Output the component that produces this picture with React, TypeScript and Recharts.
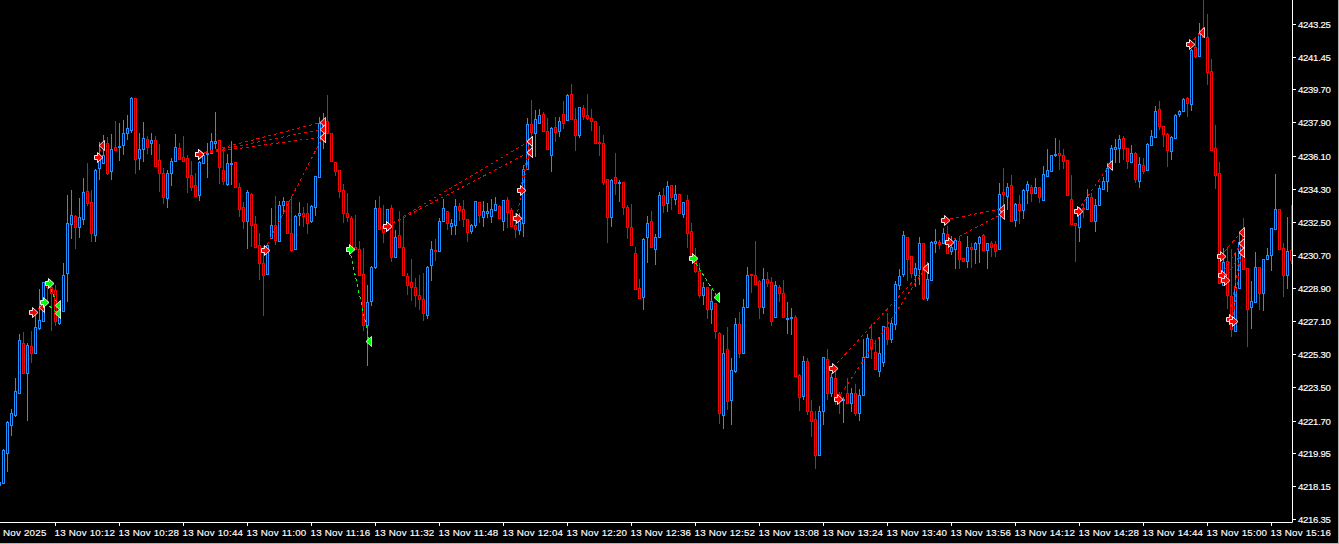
import { Bar, ComposedChart, Line, Scatter, XAxis, YAxis } from "recharts";

const BLUE = "#1e90ff";
const RED = "#ff0000";
const GREEN = "#00ff00";
const FONT = '"Liberation Sans", sans-serif';

const opens = [
  4218.20,4218.32,4219.95,4221.48,4222.02,4223.21,4225.89,4224.30,4225.75,4225.35,
  4226.75,4227.09,4229.19,4228.97,4228.79,4227.02,4227.67,4229.70,4232.40,4232.81,
  4232.23,4232.67,4234.15,4233.57,4231.80,4235.44,4235.71,4236.76,4235.28,4236.54,
  4236.54,4236.69,4237.34,4237.49,4239.23,4235.97,4236.47,4236.98,4236.76,4236.94,
  4235.86,4235.13,4233.81,4235.13,4235.82,4236.49,4236.00,4235.95,4235.02,4234.48,
  4233.94,4235.67,4236.18,4236.25,4236.80,4236.94,4235.31,4234.55,4235.64,4235.75,
  4234.37,4233.28,4232.56,4234.01,4232.38,4231.22,4230.24,4229.68,4231.62,4232.34,
  4231.47,4233.43,4233.61,4231.87,4231.00,4232.85,4232.96,4232.96,4232.52,4233.32,
  4234.95,4237.45,4237.96,4237.34,4235.75,4235.31,4234.23,4232.96,4232.70,4231.11,
  4231.00,4229.66,4226.91,4228.21,4230.06,4233.25,4232.27,4232.05,4233.23,4230.60,
  4231.76,4231.15,4229.55,4229.23,4228.94,4228.50,4228.28,4227.42,4230.13,4230.97,
  4230.89,4232.53,4233.07,4232.29,4232.35,4233.36,4233.18,4232.64,4232.02,4232.35,
  4233.56,4232.78,4233.00,4232.82,4233.15,4233.36,4232.57,4233.67,4233.13,4232.31,
  4232.08,4232.46,4235.39,4237.80,4237.31,4237.89,4238.34,4237.46,4236.15,4237.64,
  4237.46,4238.34,4238.04,4239.43,4238.11,4237.24,4238.69,4238.29,4238.13,4237.96,
  4236.84,4236.77,4234.81,4232.78,4234.92,4234.63,4234.67,4233.29,4232.24,4230.79,
  4228.89,4228.44,4231.66,4232.53,4231.04,4231.66,4233.94,4233.51,4234.49,4233.76,
  4234.00,4232.95,4233.67,4231.99,4230.61,4229.85,4228.51,4228.94,4227.75,4228.07,
  4226.48,4221.99,4225.61,4222.79,4224.38,4226.92,4225.39,4227.86,4229.65,4229.63,
  4229.31,4227.89,4229.38,4229.23,4227.31,4228.94,4228.65,4227.24,4227.26,4227.31,
  4224.20,4223.04,4224.96,4222.21,4221.77,4219.82,4222.21,4225.07,4223.22,4224.02,
  4223.15,4222.86,4223.18,4222.64,4223.18,4222.10,4223.08,4225.18,4226.15,4225.43,
  4224.42,4224.90,4226.77,4226.15,4226.96,4229.09,4229.67,4231.66,4230.64,4229.63,
  4229.92,4231.33,4228.34,4229.34,4231.33,4231.39,4231.33,4231.84,4230.90,4231.04,
  4231.46,4230.53,4230.35,4231.11,4231.04,4231.33,4231.80,4230.97,4231.33,4231.30,
  4231.04,4234.10,4233.92,4234.48,4232.60,4233.47,4233.12,4234.25,4234.37,4234.05,
  4234.37,4233.70,4235.01,4235.28,4236.15,4236.22,4236.11,4235.84,4233.76,4232.42,
  4232.24,4233.25,4233.22,4233.83,4232.56,4233.40,4234.30,4234.73,4235.40,4236.47,
  4236.51,4237.03,4236.49,4235.77,4236.25,4234.73,4235.57,4235.31,4236.65,4237.12,
  4238.61,4237.69,4237.29,4236.36,4237.05,4238.34,4238.50,4239.21,4238.92,4241.98,
  4241.51,4243.01,4242.52,4240.67,4236.49,4235.13,4229.05,4230.35,4228.47,4226.58,
  4228.88,4232.09,4229.97,4227.85,4228.16,4230.02,4228.61,4230.46,4230.71,4232.09,
  4233.17,4231.07,4229.63,4230.97,
];

const closes = [
  4218.36,4220.10,4221.62,4222.09,4223.29,4226.06,4224.30,4225.79,4225.35,4226.76,
  4227.16,4229.21,4228.94,4228.61,4227.09,4227.34,4229.59,4232.41,4232.85,4232.23,
  4232.74,4234.12,4233.54,4231.87,4235.31,4236.04,4236.13,4235.17,4236.44,4236.42,
  4236.62,4237.31,4237.58,4239.23,4235.93,4236.44,4237.05,4236.58,4236.94,4235.55,
  4235.13,4233.86,4235.13,4235.78,4236.54,4235.91,4235.82,4234.95,4234.41,4233.90,
  4235.75,4236.15,4236.25,4236.87,4236.87,4235.46,4234.73,4235.67,4235.67,4234.37,
  4233.21,4232.56,4234.12,4232.34,4231.15,4230.28,4229.63,4231.22,4232.32,4231.53,
  4233.39,4233.61,4231.87,4230.97,4232.81,4232.96,4232.81,4232.45,4233.36,4234.97,
  4237.85,4237.85,4237.31,4235.78,4235.28,4234.19,4233.00,4232.78,4231.11,4231.00,
  4229.63,4226.87,4228.14,4230.02,4233.23,4232.13,4231.94,4233.18,4230.60,4231.65,
  4231.15,4229.59,4229.08,4228.97,4228.50,4228.28,4227.52,4230.06,4231.00,4230.93,
  4232.52,4233.24,4232.46,4232.42,4233.35,4233.16,4232.67,4231.97,4232.33,4233.62,
  4232.86,4233.07,4233.07,4233.18,4233.45,4232.71,4233.67,4233.05,4232.29,4232.13,
  4232.57,4235.36,4237.80,4237.40,4238.07,4238.29,4237.46,4236.48,4237.58,4237.40,
  4237.96,4237.89,4239.39,4238.11,4237.24,4238.72,4238.27,4238.14,4238.00,4236.77,
  4236.77,4234.69,4232.78,4234.78,4234.63,4234.65,4233.29,4232.20,4231.23,4228.83,
  4228.38,4231.55,4232.46,4231.12,4231.70,4233.94,4233.44,4234.45,4233.83,4234.00,
  4232.97,4233.56,4231.88,4230.65,4229.85,4228.51,4228.94,4227.75,4228.22,4226.59,
  4222.13,4225.39,4222.75,4224.45,4226.92,4225.39,4227.86,4229.60,4229.61,4229.13,
  4227.89,4229.38,4229.16,4227.10,4229.05,4228.65,4227.31,4227.28,4227.31,4224.13,
  4223.00,4224.96,4222.24,4221.70,4219.82,4222.24,4225.14,4223.18,4224.05,4223.00,
  4222.82,4222.89,4222.64,4223.18,4222.13,4223.08,4225.18,4226.19,4225.57,4224.49,
  4225.36,4226.84,4226.12,4226.99,4229.12,4229.56,4231.77,4230.50,4229.74,4229.99,
  4231.33,4228.34,4229.38,4231.40,4231.44,4231.31,4231.87,4230.82,4231.11,4231.51,
  4230.50,4230.39,4231.11,4231.04,4231.33,4231.69,4230.97,4231.33,4231.11,4230.93,
  4233.99,4233.99,4234.37,4232.56,4233.47,4233.14,4234.21,4234.54,4234.05,4234.37,
  4233.87,4235.08,4235.30,4236.11,4236.19,4236.11,4235.82,4233.94,4232.38,4232.31,
  4233.25,4233.20,4233.83,4232.56,4233.40,4234.32,4234.70,4235.40,4236.51,4236.54,
  4236.98,4236.51,4235.82,4236.24,4234.82,4235.62,4235.28,4236.73,4237.16,4238.50,
  4237.70,4237.29,4236.42,4237.11,4238.32,4238.54,4239.19,4238.93,4241.83,4241.51,
  4242.74,4242.52,4240.66,4236.42,4235.06,4229.15,4230.31,4228.50,4226.65,4228.94,
  4231.42,4229.95,4227.78,4228.18,4230.02,4228.61,4230.46,4230.69,4232.14,4233.17,
  4231.04,4229.63,4230.93,4230.40,
];

const highs = [
  4218.36,4220.15,4221.67,4222.33,4224.01,4226.40,4226.51,4225.93,4226.56,4227.42,
  4228.83,4229.25,4229.34,4229.06,4229.06,4228.18,4230.28,4233.94,4234.23,4232.85,
  4233.79,4234.88,4235.69,4234.23,4235.39,4236.85,4237.21,4237.11,4237.27,4237.96,
  4237.85,4238.03,4238.30,4239.26,4239.23,4237.31,4237.92,4237.16,4237.34,4237.16,
  4236.73,4235.42,4235.31,4235.95,4237.27,4236.76,4237.16,4236.13,4235.82,4235.13,
  4235.82,4236.25,4236.76,4237.34,4238.46,4236.94,4236.47,4236.18,4236.89,4235.75,
  4234.59,4233.57,4234.23,4234.05,4232.81,4231.87,4231.18,4231.36,4233.25,4233.90,
  4233.61,4233.86,4233.61,4233.90,4232.85,4233.57,4233.28,4233.54,4233.43,4234.99,
  4238.17,4238.39,4239.39,4237.34,4235.75,4235.31,4234.55,4234.05,4232.81,4232.85,
  4231.44,4231.07,4229.05,4230.10,4233.68,4233.90,4233.41,4233.21,4233.41,4232.05,
  4233.10,4232.78,4229.73,4230.50,4229.44,4229.59,4229.73,4230.10,4231.44,4231.55,
  4232.70,4233.73,4233.11,4232.64,4233.76,4233.54,4233.69,4232.67,4232.39,4233.65,
  4233.58,4233.62,4233.51,4233.73,4233.83,4233.40,4233.69,4233.83,4233.25,4232.96,
  4232.96,4235.57,4238.15,4239.12,4238.58,4238.65,4238.47,4238.15,4237.64,4238.18,
  4238.18,4239.05,4239.45,4239.99,4238.69,4238.76,4238.87,4239.45,4238.62,4238.00,
  4237.71,4237.24,4234.85,4234.81,4236.22,4234.78,4234.67,4233.40,4233.47,4231.12,
  4229.38,4231.62,4232.82,4233.07,4231.84,4234.12,4234.34,4234.72,4234.49,4234.52,
  4234.02,4233.60,4233.96,4232.42,4231.06,4230.25,4229.23,4228.94,4228.87,4228.11,
  4226.52,4226.34,4226.77,4225.10,4227.28,4227.60,4228.29,4230.03,4229.65,4231.48,
  4229.34,4229.99,4229.78,4229.49,4229.27,4229.09,4229.34,4228.15,4227.82,4227.42,
  4224.23,4225.21,4225.10,4222.82,4222.21,4222.50,4225.18,4225.57,4224.27,4224.45,
  4223.26,4223.00,4224.02,4223.47,4223.69,4223.40,4226.15,4226.41,4226.95,4226.08,
  4226.26,4226.84,4227.53,4227.20,4229.30,4229.92,4232.00,4231.66,4230.64,4230.25,
  4231.66,4231.33,4230.32,4231.44,4232.13,4231.51,4232.17,4232.27,4231.73,4231.59,
  4231.66,4230.53,4231.73,4231.33,4231.40,4231.73,4231.84,4231.37,4231.44,4231.48,
  4234.63,4235.43,4234.63,4235.03,4233.54,4233.94,4234.30,4234.70,4234.48,4234.88,
  4234.37,4235.53,4236.48,4236.15,4237.04,4236.95,4236.44,4235.86,4235.03,4232.42,
  4233.29,4233.47,4234.27,4234.05,4233.72,4234.52,4234.95,4235.67,4236.67,4236.98,
  4237.21,4237.16,4236.49,4236.67,4236.29,4236.00,4235.96,4236.80,4237.49,4238.79,
  4239.04,4237.70,4237.32,4237.16,4238.36,4238.57,4239.22,4239.30,4241.87,4242.47,
  4243.28,4244.55,4243.79,4241.36,4237.76,4235.75,4231.06,4231.11,4231.00,4230.87,
  4231.87,4232.70,4229.97,4229.30,4230.86,4230.02,4230.49,4231.06,4232.16,4235.10,
  4233.17,4231.36,4232.78,4233.39,
];

const lows = [
  4218.15,4218.29,4218.90,4220.86,4221.87,4223.18,4224.26,4221.69,4224.84,4225.31,
  4226.62,4227.05,4228.07,4226.58,4226.84,4226.91,4227.63,4228.14,4231.58,4231.04,
  4231.60,4232.34,4233.36,4231.40,4231.40,4234.77,4235.67,4235.02,4234.77,4236.33,
  4235.80,4236.13,4236.94,4237.34,4235.10,4235.31,4235.75,4236.18,4236.13,4235.49,
  4234.12,4233.47,4233.25,4234.44,4235.75,4235.86,4235.78,4234.08,4234.15,4233.86,
  4233.63,4235.64,4234.88,4236.22,4236.44,4234.55,4234.50,4234.44,4234.48,4234.35,
  4232.78,4232.13,4231.04,4231.11,4231.11,4229.34,4227.40,4229.66,4231.58,4231.22,
  4231.44,4232.92,4231.84,4230.86,4230.97,4232.27,4232.23,4231.84,4232.45,4232.81,
  4234.91,4236.47,4237.27,4235.75,4234.99,4233.79,4232.45,4232.49,4230.97,4230.97,
  4229.59,4226.58,4224.66,4227.92,4229.95,4232.09,4231.36,4231.98,4230.31,4230.57,
  4231.11,4229.55,4228.54,4228.21,4227.89,4227.71,4227.13,4227.20,4229.26,4230.39,
  4230.86,4232.49,4232.06,4231.81,4231.81,4232.57,4232.20,4231.41,4231.84,4232.17,
  4232.42,4232.24,4232.71,4232.42,4233.11,4232.67,4232.02,4232.17,4232.28,4231.62,
  4231.81,4231.66,4235.36,4236.30,4236.01,4237.86,4237.38,4236.44,4235.21,4236.84,
  4237.09,4237.53,4238.00,4238.07,4236.37,4237.06,4238.04,4238.04,4237.46,4236.73,
  4236.08,4234.49,4231.37,4232.24,4233.98,4233.58,4232.89,4231.59,4231.19,4228.80,
  4228.35,4227.71,4230.28,4231.08,4230.17,4231.62,4233.00,4233.04,4233.15,4233.44,
  4232.93,4232.73,4231.05,4230.61,4229.74,4228.36,4228.00,4227.24,4226.92,4226.15,
  4221.52,4221.26,4222.28,4221.48,4224.31,4225.10,4225.36,4227.82,4228.65,4229.09,
  4227.24,4227.49,4228.98,4226.84,4227.28,4228.15,4227.28,4226.41,4226.37,4224.09,
  4222.24,4222.82,4221.99,4220.83,4219.09,4219.78,4221.48,4222.79,4223.00,4222.57,
  4222.06,4221.59,4222.60,4222.17,4221.95,4221.70,4223.04,4225.14,4225.07,4224.45,
  4224.09,4224.61,4225.79,4225.90,4226.62,4228.80,4229.48,4229.30,4229.45,4228.98,
  4229.09,4228.25,4228.20,4229.30,4230.79,4231.04,4231.30,4230.79,4230.72,4229.96,
  4229.96,4230.35,4229.99,4229.99,4230.21,4230.28,4230.93,4229.96,4230.57,4230.60,
  4231.00,4233.14,4233.14,4232.53,4232.20,4232.38,4232.67,4233.47,4233.58,4234.01,
  4233.54,4233.67,4234.99,4235.24,4236.04,4235.32,4235.35,4233.90,4232.35,4230.32,
  4231.40,4232.71,4233.18,4232.53,4231.95,4233.36,4234.30,4234.14,4235.31,4235.67,
  4235.67,4235.86,4235.35,4235.73,4234.59,4234.33,4235.10,4235.28,4236.62,4237.09,
  4237.49,4236.54,4235.49,4235.86,4237.02,4238.21,4238.46,4238.21,4238.54,4241.40,
  4241.43,4242.47,4239.95,4236.40,4234.26,4229.12,4229.01,4227.74,4226.22,4226.55,
  4228.85,4229.91,4225.71,4226.69,4228.12,4227.70,4227.67,4230.42,4229.84,4232.05,
  4231.00,4228.43,4228.86,4230.20,
];

// prices printed on the right axis
const priceTicks = [
  4243.25, 4241.45, 4239.7, 4237.9, 4236.1, 4234.3, 4232.5, 4230.7,
  4228.9, 4227.1, 4225.3, 4223.5, 4221.7, 4219.95, 4218.15, 4216.35,
];

const timeTickBars = [
  0.125, 14, 30, 46, 62, 78, 94, 110, 126, 142, 158, 174, 190, 206, 222, 238, 254, 270, 286, 302, 318,
];
const timeTickLabels = [
  "Nov 2025", "13 Nov 10:12", "13 Nov 10:28", "13 Nov 10:44", "13 Nov 11:00", "13 Nov 11:16",
  "13 Nov 11:32", "13 Nov 11:48", "13 Nov 12:04", "13 Nov 12:20", "13 Nov 12:36", "13 Nov 12:52",
  "13 Nov 13:08", "13 Nov 13:24", "13 Nov 13:40", "13 Nov 13:56", "13 Nov 14:12", "13 Nov 14:28",
  "13 Nov 14:44", "13 Nov 15:00", "13 Nov 15:16",
];

// closed trades, red ones and green ones: where each opened and where it closed
const redFromBars = [8.25, 24.5, 49.75, 49.75, 49.75, 66.25, 97, 97, 129.25, 130.25, 208.25, 209.5, 236.25, 237.25, 269.5, 297.5, 305.25, 305.5, 306.25, 307.5, 308.25];
const redFromPrices = [4227.6, 4236.02, 4236.19, 4236.19, 4236.19, 4230.97, 4232.27, 4232.27, 4232.7, 4234.23, 4224.56, 4222.87, 4232.6, 4231.4, 4233.09, 4242.16, 4230.64, 4229.61, 4229.34, 4227.22, 4227.11];
const redToBars = [10.5, 25.75, 80.75, 80.75, 80.75, 80.75, 132.5, 132.5, 132.5, 132.5, 231.5, 231.5, 250.5, 250.5, 277.5, 300.5, 310.5, 310.5, 310.5, 310.5, 310.5];
const redToPrices = [4227.87, 4236.68, 4237.92, 4237.54, 4237.11, 4237.11, 4236.89, 4236.29, 4236.29, 4236.89, 4229.99, 4229.99, 4233.2, 4232.92, 4235.59, 4242.81, 4231.95, 4231.35, 4230.86, 4231.35, 4230.86];

const greenFromBars = [11.25, 12.25, 87.5, 173.25];
const greenFromPrices = [4228.14, 4229.17, 4231.02, 4230.53];
const greenToBars = [14.5, 14.5, 92.5, 179.5];
const greenToPrices = [4227.55, 4227.98, 4226.02, 4228.41];

const candles = opens.map((open, i) => ({
  bar: i,
  open,
  close: closes[i],
  high: highs[i],
  low: lows[i],
  range: [lows[i], highs[i]],
}));

const toPoints = (bars: number[], prices: number[]) =>
  bars.map((bar, i) => ({ bar, price: prices[i] }));

const redTrades = redFromBars.map((bar, i) => [
  { bar, price: redFromPrices[i] },
  { bar: redToBars[i], price: redToPrices[i] },
]);
const greenTrades = greenFromBars.map((bar, i) => [
  { bar, price: greenFromPrices[i] },
  { bar: greenToBars[i], price: greenToPrices[i] },
]);

function Candle(props: any) {
  const { x, y, width, height, payload } = props;
  const color = payload.close >= payload.open ? BLUE : RED;
  const cx = Math.floor(x + width / 2) + 0.5;
  const perPrice = height / (payload.high - payload.low || 1);
  const top = y + (payload.high - Math.max(payload.open, payload.close)) * perPrice;
  const bottom = y + (payload.high - Math.min(payload.open, payload.close)) * perPrice;
  const bodyTop = Math.round(top) + 0.5;
  const bodyHeight = Math.max(Math.round(bottom) - Math.round(top), 1);

  return (
    <g shapeRendering="crispEdges">
      <line x1={cx} x2={cx} y1={y} y2={y + height} stroke={color} />
      <rect x={cx - 1} y={bodyTop} width={2} height={bodyHeight} fill="#000" stroke={color} />
    </g>
  );
}

function entryArrow(fill: string) {
  return function EntryArrow({ cx, cy }: any) {
    const px = Math.round(cx) + 0.5;
    const py = Math.round(cy) + 0.5;
    const path = `M${px - 4} ${py - 2}H${px - 1}V${py - 5}L${px + 4.5} ${py}L${px - 1} ${py + 5}V${py + 2}H${px - 4}Z`;
    return <path d={path} fill={fill} stroke="#fff" strokeWidth={0.9} />;
  };
}

function exitTriangle(fill: string) {
  return function ExitTriangle({ cx, cy }: any) {
    const px = Math.round(cx) + 0.5;
    const py = Math.round(cy) + 0.5;
    const path = `M${px - 3.5} ${py}L${px + 2} ${py - 5}V${py + 5}Z`;
    return <path d={path} fill={fill} stroke="#fff" strokeWidth={0.8} />;
  };
}

function TimeTick({ x, y, payload, index }: any) {
  const first = index === 0;
  const px = Math.floor(x) + 0.5;
  return (
    <g>
      {!first && <line x1={px} x2={px} y1={y} y2={y + 3} stroke="#fff" shapeRendering="crispEdges" />}
      <text
        x={first ? 3 : px - 1}
        y={y + 13.5}
        fill="#fff"
        stroke="#fff"
        strokeWidth={0.15}
        fontSize={9.8}
        letterSpacing={0.2}
        fontFamily={FONT}
      >
        {timeTickLabels[timeTickBars.indexOf(payload.value)]}
      </text>
    </g>
  );
}

function PriceTick({ x, y, payload }: any) {
  const py = Math.round(y) + 0.5;
  return (
    <g>
      <line x1={x} x2={x + 3} y1={py} y2={py} stroke="#fff" shapeRendering="crispEdges" />
      <text
        x={x + 5.5}
        y={py + 3.5}
        fill="#fff"
        stroke="#fff"
        strokeWidth={0.15}
        fontSize={9.6}
        letterSpacing={-0.3}
        fontFamily={FONT}
      >
        {payload.value.toFixed(2)}
      </text>
    </g>
  );
}

export default function App() {
  return (
    <div
      style={{
        position: "absolute",
        left: 0,
        top: 0,
        width: 1339,
        height: 544,
        boxSizing: "border-box",
        borderRight: "1px solid #b0b0b0",
        borderBottom: "1px solid #b0b0b0",
        background: "#000",
        overflow: "hidden",
      }}
    >
      <ComposedChart width={1339} height={544} data={candles} margin={{ top: 0, right: 0, bottom: 0, left: 0 }}>
        <XAxis
          type="number"
          dataKey="bar"
          domain={[0.125, 323.25]}
          allowDataOverflow
          ticks={timeTickBars}
          interval={0}
          height={21.5}
          stroke="#fff"
          tickLine={false}
          tickSize={0}
          tickMargin={0}
          tick={<TimeTick />}
        />
        <YAxis
          orientation="right"
          dataKey="price"
          domain={[4216.16, 4244.554]}
          allowDataOverflow
          ticks={priceTicks}
          interval={0}
          width={46.5}
          stroke="#fff"
          tickLine={false}
          tickSize={0}
          tickMargin={0}
          tick={<PriceTick />}
        />

        <Bar dataKey="range" barSize={3} shape={<Candle />} isAnimationActive={false} />

        {redTrades.map((points, i) => (
          <Line
            key={`red-${i}`}
            data={points}
            dataKey="price"
            stroke={RED}
            strokeWidth={1}
            strokeDasharray="3 3"
            shapeRendering="crispEdges"
            dot={false}
            activeDot={false}
            isAnimationActive={false}
          />
        ))}
        {greenTrades.map((points, i) => (
          <Line
            key={`green-${i}`}
            data={points}
            dataKey="price"
            stroke={GREEN}
            strokeWidth={1}
            strokeDasharray="3 3"
            shapeRendering="crispEdges"
            dot={false}
            activeDot={false}
            isAnimationActive={false}
          />
        ))}

        <Scatter data={toPoints(redToBars, redToPrices)} dataKey="price" shape={exitTriangle(RED)} isAnimationActive={false} />
        <Scatter data={toPoints(greenToBars, greenToPrices)} dataKey="price" shape={exitTriangle(GREEN)} isAnimationActive={false} />
        <Scatter data={toPoints(redFromBars, redFromPrices)} dataKey="price" shape={entryArrow(RED)} isAnimationActive={false} />
        <Scatter data={toPoints(greenFromBars, greenFromPrices)} dataKey="price" shape={entryArrow(GREEN)} isAnimationActive={false} />
      </ComposedChart>
    </div>
  );
}
